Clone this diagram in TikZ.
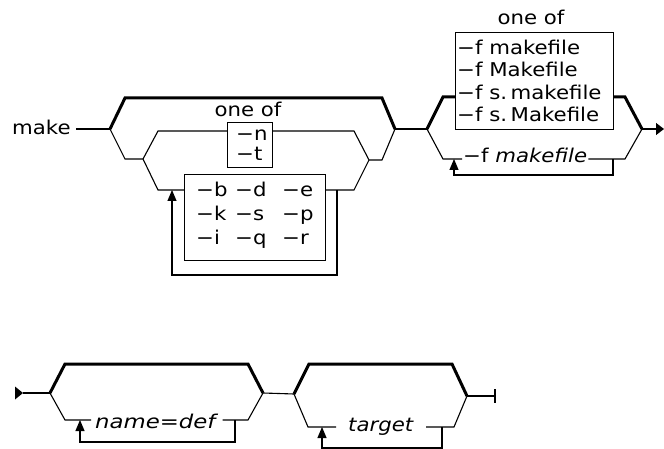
\documentclass[tikz,border=0pt]{standalone}
\usepackage{fontspec}
\setmainfont{DejaVu Sans}
\usetikzlibrary{arrows.meta,calc}
\newcommand\sx[1]{\scalebox{1.12}[1]{#1}}
\begin{document}
\begin{tikzpicture}[x=1pt,y=-1pt,
  rr/.style={line width=1.1pt},
  rrk/.style={line width=3pt},
  bx/.style={draw,line width=1.2pt,inner sep=0pt,anchor=north west},
  txt/.style={inner sep=0pt,anchor=base west,font=\fontsize{19}{23}\selectfont},
  ctxt/.style={inner sep=0pt,anchor=base,font=\fontsize{19}{23}\selectfont},
  upar/.style={-{Triangle[length=11pt,width=9pt]}}]
\useasboundingbox (0,0) rectangle (664,449);

% ---------- first diagram ----------
\node[txt] (make) at (12,135) {\sx{make}};
\coordinate (m0) at (76,129);
\coordinate (A1) at (110,129);
\coordinate (A1u) at (125,98);
\coordinate (B1u) at (382,98);
\coordinate (B1) at (395,129);
\coordinate (A1d) at (125,159);
\coordinate (A2) at (143,159);
\coordinate (A2u) at (158,131);
\coordinate (A2d) at (158,190);
\coordinate (B2) at (369,160);
\coordinate (B2u) at (354,131);
\coordinate (B2d) at (354,190);
\coordinate (B1d) at (382,160);
\draw[rr] (m0) -- (A1);
\draw[rrk,line join=miter] (A1) -- (A1u) -- (B1u) -- (B1);
\draw[rr] (A1) -- (A1d) -- (A2);

\node[bx,minimum width=45pt,minimum height=45pt] (nbox) at (227,122) {};
\node[ctxt] (oneofA) at (248,117) {\sx{one of}};
\node[txt] (tn) at (236,141) {\sx{−n}};
\node[txt] (tt) at (236,161) {\sx{−t}};
\draw[rr] (A2) -- (A2u) -- (A2u -| nbox.west);
\draw[rr] (B2u -| nbox.east) -- (B2u) -- (B2);

\node[bx,minimum width=141pt,minimum height=86pt] (bbox) at (184,174) {};
\node[txt] (ob) at (196,197) {\sx{−b}};
\node[txt] (od) at (235,197) {\sx{−d}};
\node[txt] (oe) at (282,197) {\sx{−e}};
\node[txt] (ok) at (196,221) {\sx{−k}};
\node[txt] (os) at (235,221) {\sx{−s}};
\node[txt] (op) at (282,221) {\sx{−p}};
\node[txt] (oi) at (196,244) {\sx{−i}};
\node[txt] (oq) at (235,244) {\sx{−q}};
\node[txt] (or) at (282,244) {\sx{−r}};
\draw[rr] (A2) -- (A2d) -- (A2d -| bbox.west);
\draw[rr] (B2d -| bbox.east) -- (B2d) -- (B2);
\draw[rr] (B2) -- (B1d) -- (B1);
\coordinate (L1a) at (337,190);
\coordinate (L1b) at (337,275);
\coordinate (L1c) at (172,275);
\coordinate (L1d) at (172,190);
\draw[rr,upar] (L1a) -- (L1b) -- (L1c) -- (L1d);

% right part
\coordinate (C1) at (427,129);
\coordinate (C1u) at (443,97);
\coordinate (C1d) at (443,159);
\coordinate (D1) at (642,129);
\coordinate (D1u) at (625,97);
\coordinate (D1d) at (625,159);
\coordinate (Z1) at (664,129);
\draw[rr] (B1) -- (C1);
\node[bx,minimum width=158pt,minimum height=97pt] (fbox) at (455,32) {};
\node[ctxt] (oneofB) at (531,25) {\sx{one of}};
\node[txt] (f1) at (457,55) {\sx{−f makefile}};
\node[txt] (f2) at (457,77) {\sx{−f Makefile}};
\node[txt] (f3) at (457,100) {\sx{−f s.\,makefile}};
\node[txt] (f4) at (457,122) {\sx{−f s.\,Makefile}};
\draw[rrk,line join=miter] (C1) -- (C1u) -- (C1u -| fbox.west);
\draw[rrk,line join=miter] (D1u -| fbox.east) -- (D1u) -- (D1);
\draw[rr,-{Triangle[length=8pt,width=12pt]}] (D1) -- (Z1);
\node[txt,inner xsep=1pt] (fm) at (462,163) {\sx{−f \textit{makefile}}};
\draw[rr] (C1) -- (C1d) -- (C1d -| fm.west);
\draw[rr] (C1d -| fm.east) -- (D1d) -- (D1);
\coordinate (L2a) at (613,159);
\coordinate (L2b) at (613,175);
\coordinate (L2c) at (454,175);
\coordinate (L2d) at (454,159);
\draw[rr,upar] (L2a) -- (L2b) -- (L2c) -- (L2d);

% ---------- second diagram ----------
\coordinate (S0) at (23,393);
\fill (15,386.5) -- (S0) -- (15,399.5) -- cycle;
\coordinate (E1) at (50,393);
\coordinate (E1u) at (65,364);
\coordinate (E1d) at (65,420);
\coordinate (F1) at (263,393);
\coordinate (F1u) at (248,364);
\coordinate (F1d) at (248,420);
\draw[rr] (S0) -- (E1);
\draw[rrk,line join=miter] (E1) -- (E1u) -- (F1u) -- (F1);
\node[txt,inner xsep=4pt] (nd) at (91,428) {\scalebox{1.2}[1]{\textit{name=def}}};
\draw[rr] (E1) -- (E1d) -- (E1d -| nd.west);
\draw[rr] (E1d -| nd.east) -- (F1d) -- (F1);
\coordinate (L3a) at (235,420);
\coordinate (L3b) at (235,442);
\coordinate (L3c) at (80,442);
\coordinate (L3d) at (80,420);
\draw[rr,upar] (L3a) -- (L3b) -- (L3c) -- (L3d);

\coordinate (G1) at (294,394);
\coordinate (G1u) at (309,364);
\coordinate (G1d) at (308,427);
\coordinate (H1) at (467,396);
\coordinate (H1u) at (452,364);
\coordinate (H1d) at (454,427);
\coordinate (Z2) at (495,396);
\draw[rr] (F1) -- (G1);
\draw[rrk,line join=miter] (G1) -- (G1u) -- (H1u) -- (H1);
\node[txt,inner xsep=12pt] (tg) at (336,431) {\sx{\textit{target}}};
\draw[rr] (G1) -- (G1d) -- (G1d -| tg.west);
\draw[rr] (G1d -| tg.east) -- (H1d) -- (H1);
\coordinate (L4a) at (442,427);
\coordinate (L4b) at (442,448);
\coordinate (L4c) at (322,448);
\coordinate (L4d) at (322,427);
\draw[rr,upar] (L4a) -- (L4b) -- (L4c) -- (L4d);
\draw[rr] (H1) -- (Z2);
\draw[rr] ($(Z2)+(0,-7)$) -- ($(Z2)+(0,7)$);
\end{tikzpicture}
\end{document}
